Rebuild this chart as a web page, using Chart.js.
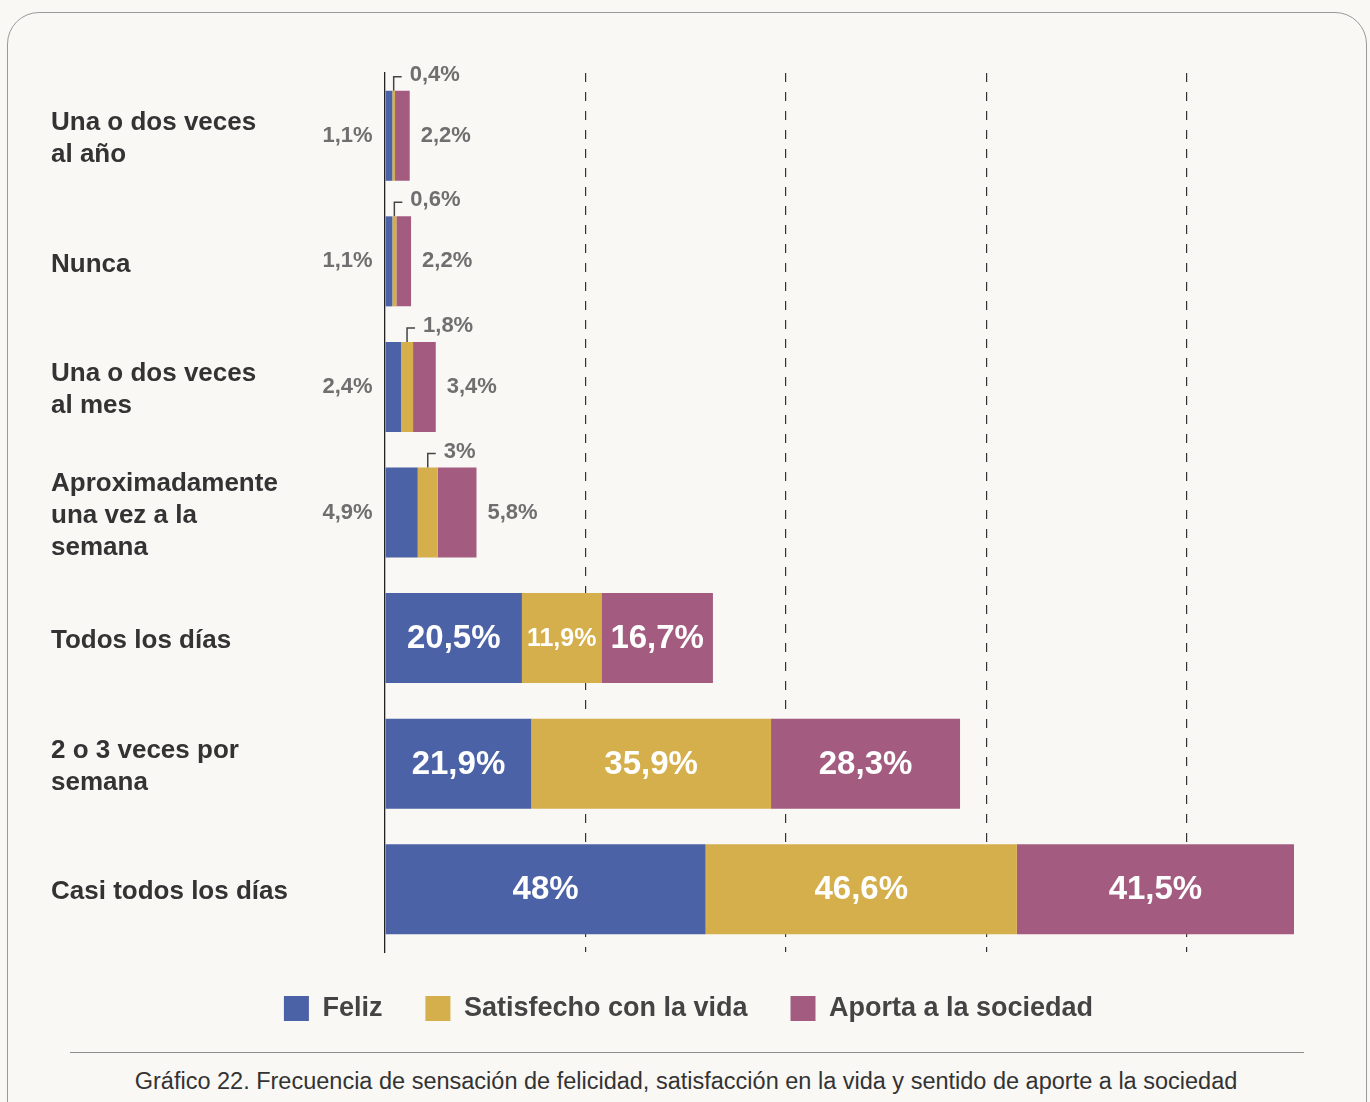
<!DOCTYPE html>
<html lang="es">
<head>
<meta charset="utf-8">
<script src="https://cdn.jsdelivr.net/npm/chart.js@4/dist/chart.umd.min.js"></script>
<style>
html,body{margin:0;padding:0;background:#f9f8f5;width:1370px;height:1102px;overflow:hidden;font-family:"Liberation Sans",Arial,Helvetica,sans-serif;}
#card{position:absolute;left:7px;top:12px;width:1360px;height:1130px;border:1.5px solid #9a9a9a;border-radius:32px;box-sizing:border-box;}
#wrap{position:absolute;left:0;top:0;width:1370px;height:1040px;}
#rule{position:absolute;left:70px;top:1052px;width:1234px;height:0;border-top:1px solid #8c8c8c;}
#caption{position:absolute;left:0;top:1066px;width:1372px;text-align:center;font-size:23.5px;line-height:30px;color:#333;}
</style>
</head>
<body>
<div id="card"></div>
<div id="wrap"><canvas id="c" width="1370" height="1040"></canvas></div>
<div id="rule"></div>
<div id="caption">Gráfico 22. Frecuencia de sensación de felicidad, satisfacción en la vida y sentido de aporte a la sociedad</div>
<script>
const FONT = '"Liberation Sans", Arial, Helvetica, sans-serif';

const categories = [
  ["Una o dos veces", "al año"],
  "Nunca",
  ["Una o dos veces", "al mes"],
  ["Aproximadamente", "una vez a la", "semana"],
  "Todos los días",
  ["2 o 3 veces por", "semana"],
  "Casi todos los días"
];
const seriesNames = ["Feliz", "Satisfecho con la vida", "Aporta a la sociedad"];
const feliz      = [1.1, 1.1, 2.4, 4.9, 20.5, 21.9, 48];
const satisfecho = [0.4, 0.6, 1.8, 3, 11.9, 35.9, 46.6];
const aporta     = [2.2, 2.2, 3.4, 5.8, 16.7, 28.3, 41.5];
const gridStep = 30;

const colors = ["#4c62a6", "#d4af4c", "#a35c80"];
const seriesValues = [feliz, satisfecho, aporta];
const axisMax = Math.max(...categories.map((_, i) => seriesValues.reduce((s, arr) => s + arr[i], 0)));

const fmt = v => String(v).replace('.', ',') + '%';

const valueLabels = {
  id: 'valueLabels',
  afterDatasetsDraw(chart) {
    const ctx = chart.ctx;
    chart.data.datasets.forEach((ds, di) => {
      const meta = chart.getDatasetMeta(di);
      meta.data.forEach((bar, i) => {
        const {x, y, base, height} = bar.getProps(['x', 'y', 'base', 'height'], true);
        const w = x - base;
        const txt = fmt(ds.data[i]);
        ctx.save();
        ctx.textBaseline = 'middle';
        if (w >= 60) {
          ctx.fillStyle = '#ffffff';
          ctx.font = 'bold ' + (w >= 100 ? 33 : 25) + 'px ' + FONT;
          ctx.textAlign = 'center';
          ctx.fillText(txt, (x + base) / 2, y + 1);
        } else {
          ctx.fillStyle = '#6f6f6f';
          ctx.font = 'bold 22px ' + FONT;
          if (di === 0) {
            ctx.textAlign = 'right';
            ctx.fillText(txt, base - 13, y);
          } else if (di === seriesValues.length - 1) {
            ctx.textAlign = 'left';
            ctx.fillText(txt, x + 11, y);
          } else {
            const cx = (x + base) / 2;
            const top = y - height / 2;
            ctx.strokeStyle = '#444';
            ctx.lineWidth = 1.5;
            ctx.beginPath();
            ctx.moveTo(cx, top);
            ctx.lineTo(cx, top - 14);
            ctx.lineTo(cx + 8, top - 14);
            ctx.stroke();
            ctx.textAlign = 'left';
            ctx.fillText(txt, cx + 16, top - 16);
          }
        }
        ctx.restore();
      });
    });
  }
};

const legendShift = {
  id: 'legendShift',
  afterLayout(chart) {
    if (chart.legend) { chart.legend.left += 16; chart.legend.right += 16; }
  }
};

new Chart(document.getElementById('c'), {
  type: 'bar',
  data: {
    labels: categories,
    datasets: seriesNames.map((name, k) => ({
      label: name,
      data: seriesValues[k],
      backgroundColor: colors[k],
      borderWidth: 0,
      stack: 's',
      categoryPercentage: 0.717,
      barPercentage: 1
    }))
  },
  options: {
    indexAxis: 'y',
    responsive: false,
    animation: false,
    devicePixelRatio: 1,
    layout: {padding: {left: 51, right: 76, top: 73, bottom: 8}},
    scales: {
      x: {
        stacked: true,
        min: 0,
        max: axisMax,
        ticks: {display: false, stepSize: gridStep},
        grid: {
          drawTicks: false,
          lineWidth: 1.2,
          color: c => (c.tick && c.tick.value > 0 && c.tick.value < axisMax && c.tick.value % gridStep === 0) ? '#333' : 'rgba(0,0,0,0)'
        },
        border: {display: false, dash: [9, 10]}
      },
      y: {
        stacked: true,
        grid: {display: false, drawTicks: false},
        border: {display: true, color: '#222', width: 1.3},
        ticks: {
          crossAlign: 'far',
          padding: 0,
          labelOffset: 3,
          color: '#333',
          font: {family: FONT, size: 26, weight: 'bold', lineHeight: 1.23}
        },
        afterFit: s => { s.width = 334; }
      }
    },
    plugins: {
      legend: {
        position: 'bottom',
        labels: {
          boxWidth: 25,
          boxHeight: 25,
          padding: 43,
          color: '#444',
          font: {family: FONT, size: 27, weight: 'bold'}
        }
      },
      tooltip: {enabled: false}
    }
  },
  plugins: [valueLabels, legendShift]
});
</script>
</body>
</html>
